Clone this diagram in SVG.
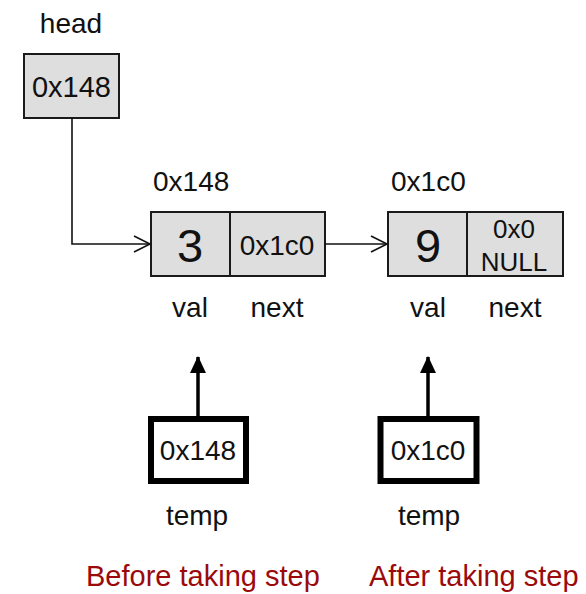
<svg xmlns="http://www.w3.org/2000/svg" width="586" height="594" viewBox="0 0 586 594">
  <style>
    text { font-family: "Liberation Sans", Arial, sans-serif; fill: #111; }
    .lbl { font-size: 28px; }
    .box { font-size: 29px; }
    .cell { fill: #dedede; stroke: #1a1a1a; stroke-width: 2; }
    .ptr { fill: #fff; stroke: #000; stroke-width: 6; }
    .wire { fill: none; stroke: #111; stroke-width: 1.6; }
    .up { fill: none; stroke: #000; stroke-width: 3.5; }
    .cap { font-size: 29px; fill: #9b0a0a; }
  </style>
  <defs>
    <marker id="open" markerWidth="20" markerHeight="20" refX="17" refY="9" orient="auto" markerUnits="userSpaceOnUse">
      <path d="M1,1 L17,9 L1,17" fill="none" stroke="#111" stroke-width="1.6"/>
    </marker>
    <marker id="solid" markerWidth="20" markerHeight="20" refX="16" refY="8" orient="auto" markerUnits="userSpaceOnUse">
      <path d="M0,0 L17,8 L0,16 Z" fill="#000"/>
    </marker>
  </defs>

  <!-- head pointer -->
  <g id="head">
    <text class="lbl" x="71" y="33" text-anchor="middle">head</text>
    <rect class="cell" x="24" y="54" width="95" height="64"/>
    <text class="box" x="71.5" y="97" text-anchor="middle">0x148</text>
  </g>

  <!-- first list node -->
  <g id="node1">
    <text class="lbl" x="153" y="191">0x148</text>
    <rect class="cell" x="151" y="212" width="174" height="64"/>
    <line x1="230" y1="212" x2="230" y2="276" stroke="#1a1a1a" stroke-width="2"/>
    <text x="190" y="262" font-size="47" text-anchor="middle">3</text>
    <text class="lbl" x="277" y="255" text-anchor="middle">0x1c0</text>
    <text class="lbl" x="190" y="317" text-anchor="middle">val</text>
    <text class="lbl" x="277" y="317" text-anchor="middle">next</text>
  </g>

  <!-- second list node -->
  <g id="node2">
    <text class="lbl" x="391" y="191">0x1c0</text>
    <rect class="cell" x="388" y="212" width="175" height="64"/>
    <line x1="467" y1="212" x2="467" y2="276" stroke="#1a1a1a" stroke-width="2"/>
    <text x="428" y="262" font-size="47" text-anchor="middle">9</text>
    <text x="514" y="238" font-size="26" text-anchor="middle">0x0</text>
    <text x="514" y="271" font-size="26" text-anchor="middle">NULL</text>
    <text class="lbl" x="428" y="317" text-anchor="middle">val</text>
    <text class="lbl" x="515" y="317" text-anchor="middle">next</text>
  </g>

  <!-- temp before step -->
  <g id="temp1">
    <rect class="ptr" x="151" y="419" width="95" height="62"/>
    <text class="lbl" x="198" y="460" text-anchor="middle">0x148</text>
    <text class="lbl" x="197" y="525" text-anchor="middle">temp</text>
  </g>

  <!-- temp after step -->
  <g id="temp2">
    <rect class="ptr" x="380.5" y="419" width="96" height="62"/>
    <text class="lbl" x="428" y="460" text-anchor="middle">0x1c0</text>
    <text class="lbl" x="429" y="525" text-anchor="middle">temp</text>
  </g>

  <!-- connectors -->
  <g id="connectors">
    <path class="wire" d="M72,118 V244 H150" marker-end="url(#open)"/>
    <path class="wire" d="M325,244 H387" marker-end="url(#open)"/>
    <path class="up" d="M198,417 V357" marker-end="url(#solid)"/>
    <path class="up" d="M428,417 V357" marker-end="url(#solid)"/>
  </g>

  <!-- captions -->
  <text class="cap" x="86" y="586">Before taking step</text>
  <text class="cap" x="369" y="586">After taking step</text>
</svg>
